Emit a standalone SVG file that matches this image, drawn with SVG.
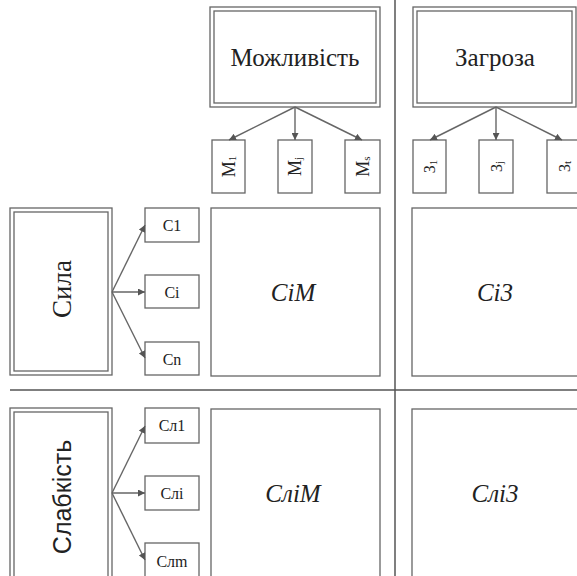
<svg xmlns="http://www.w3.org/2000/svg" width="577" height="576" viewBox="0 0 577 576">
<defs>
<marker id="ah" viewBox="0 0 10 10" refX="10" refY="5" markerWidth="7" markerHeight="7" orient="auto" markerUnits="userSpaceOnUse">
<path d="M0,0 L10,5 L0,10 z" fill="#555"/>
</marker>
<style>
.box{fill:#fff;stroke:#666;stroke-width:1.3}
.in{fill:none;stroke:#666;stroke-width:1.3}
.div{stroke:#555;stroke-width:1.5;fill:none}
.con{stroke:#666;stroke-width:1.4;fill:none;marker-end:url(#ah)}
text{fill:#222;text-anchor:middle;dominant-baseline:central}
</style>
</defs>
<rect width="577" height="576" fill="#fff"/>
<g id="dividers">
<line class="div" x1="395" y1="0" x2="395" y2="576"/>
<line class="div" x1="10" y1="390" x2="577" y2="390"/>
</g>
<g font-family="Liberation Serif, DejaVu Serif, serif">
<g id="opportunity">
<rect class="box" x="210" y="7" width="170" height="100"/>
<rect class="in" x="214" y="11" width="162" height="92"/>
<text font-size="25" x="295" y="57">Можливість</text>
</g>
<g id="threat">
<rect class="box" x="413" y="7" width="163" height="100"/>
<rect class="in" x="417" y="11" width="155" height="92"/>
<text font-size="25" x="495" y="57">Загроза</text>
</g>
<g id="m1"><rect class="box" x="212" y="140" width="33" height="53"/><text font-size="18" transform="translate(228.5 166.5) rotate(-90)">М<tspan font-size="11" dy="3">1</tspan></text></g>
<g id="mj"><rect class="box" x="278" y="140" width="34" height="53"/><text font-size="18" transform="translate(295 166.5) rotate(-90)">М<tspan font-size="11" dy="3">j</tspan></text></g>
<g id="ms"><rect class="box" x="345" y="140" width="35" height="53"/><text font-size="18" transform="translate(362.5 166.5) rotate(-90)">М<tspan font-size="11" dy="3">s</tspan></text></g>
<g id="z1"><rect class="box" x="413" y="140" width="33" height="53"/><text font-size="16" transform="translate(429.5 166.5) rotate(-90)">З<tspan font-size="11" dy="3">1</tspan></text></g>
<g id="zj"><rect class="box" x="479" y="140" width="34" height="53"/><text font-size="16" transform="translate(496 166.5) rotate(-90)">З<tspan font-size="11" dy="3">j</tspan></text></g>
<g id="zt"><rect class="box" x="547" y="140" width="34" height="53"/><text font-size="16" transform="translate(564 166.5) rotate(-90)">З<tspan font-size="11" dy="3">t</tspan></text></g>
<g id="strength">
<rect class="box" x="10" y="208" width="102" height="167"/>
<rect class="in" x="14" y="212" width="94" height="159"/>
<text font-size="27" transform="translate(62 289) rotate(-90)">Сила</text>
</g>
<g id="weakness">
<rect class="box" x="10" y="408" width="102" height="172"/>
<rect class="in" x="14" y="412" width="94" height="168"/>
<text font-family="Liberation Sans, DejaVu Sans, sans-serif" font-size="25" transform="translate(62 497) rotate(-90)">Слабкість</text>
</g>
<g id="c1"><rect class="box" x="145" y="208" width="54" height="34"/><text font-size="16" x="172" y="225">С1</text></g>
<g id="ci"><rect class="box" x="145" y="275" width="54" height="33"/><text font-size="16" x="172" y="292">Сi</text></g>
<g id="cn"><rect class="box" x="145" y="342" width="54" height="33"/><text font-size="16" x="172" y="359">Сn</text></g>
<g id="cl1"><rect class="box" x="145" y="408" width="54" height="35"/><text font-size="16" x="172" y="425.5">Сл1</text></g>
<g id="cli"><rect class="box" x="145" y="476" width="54" height="34"/><text font-size="16" x="172" y="493">Слi</text></g>
<g id="clm"><rect class="box" x="145" y="543" width="54" height="35"/><text font-size="16" x="172" y="561">Слm</text></g>
<g id="cim"><rect class="box" x="211" y="208" width="169" height="168"/><text font-size="25" font-style="italic" x="293" y="292">CiM</text></g>
<g id="ciz"><rect class="box" x="412" y="208" width="170" height="168"/><text font-size="25" font-style="italic" x="495" y="292">Ci3</text></g>
<g id="clim"><rect class="box" x="211" y="409" width="169" height="172"/><text font-size="25" font-style="italic" x="293" y="493">СліМ</text></g>
<g id="cliz"><rect class="box" x="412" y="409" width="170" height="172"/><text font-size="25" font-style="italic" x="495" y="493">Слі3</text></g>
</g>
<g id="connectors">
<line class="con" x1="295" y1="107" x2="229" y2="140"/>
<line class="con" x1="295" y1="107" x2="295" y2="140"/>
<line class="con" x1="295" y1="107" x2="362" y2="140"/>
<line class="con" x1="496" y1="107" x2="430" y2="140"/>
<line class="con" x1="496" y1="107" x2="496" y2="140"/>
<line class="con" x1="496" y1="107" x2="562" y2="140"/>
<line class="con" x1="112" y1="292" x2="145" y2="225"/>
<line class="con" x1="112" y1="292" x2="145" y2="292"/>
<line class="con" x1="112" y1="292" x2="145" y2="358"/>
<line class="con" x1="112" y1="493" x2="145" y2="426"/>
<line class="con" x1="112" y1="493" x2="145" y2="493"/>
<line class="con" x1="112" y1="493" x2="145" y2="560"/>
</g>
</svg>
